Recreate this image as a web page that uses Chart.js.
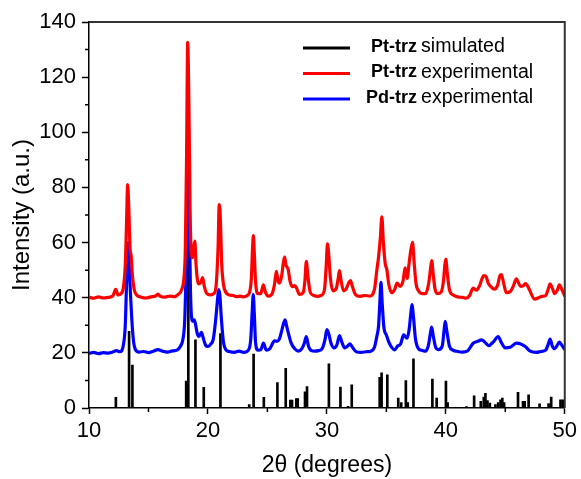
<!DOCTYPE html>
<html>
<head>
<meta charset="utf-8">
<script src="https://cdn.jsdelivr.net/npm/chart.js@4.4.0/dist/chart.umd.min.js"></script>
<style>
  html, body { margin: 0; padding: 0; background: #fff; }
  #wrap { width: 581px; height: 479px; }
</style>
</head>
<body>
<div id="wrap"><canvas id="xrd" width="581" height="479"></canvas></div>
<script>
// Pt-trz simulated: stick positions (2theta) and intensities
const simPos = [12.26, 13.37, 13.65, 18.17, 18.35, 18.95, 19.65, 21.05, 23.47, 23.84,
  24.7, 25.84, 26.54, 26.93, 27.07, 27.43, 27.55, 28.16, 28.33, 30.17,
  31.14, 31.78, 32.09, 34.44, 34.6, 35.08, 36.0, 36.25, 36.64, 36.8,
  37.28, 38.87, 39.23, 40.01, 40.15, 41.74, 42.38, 42.94, 43.19, 43.33,
  43.5, 43.7, 44.17, 44.4, 44.6, 44.75, 44.9, 46.07, 46.49, 46.63,
  46.96, 47.88, 48.64, 48.86, 49.64, 49.83];
const simInt = [3.9, 27.8, 15.6, 9.8, 75, 24.7, 7.5, 27, 1.2, 19.6,
  3.9, 9.2, 14.4, 2.9, 2.9, 3.4, 3.4, 5.9, 7.8, 16,
  7.6, 0.6, 8.4, 11.1, 12.8, 12, 3.6, 2, 9.9, 2,
  17.8, 10.5, 3.6, 9.8, 2, 0.5, 4.4, 2.4, 4, 5.3,
  2.7, 1.8, 1.2, 2, 3, 3.6, 2, 5.7, 2.4, 2.4,
  4.8, 1.5, 1.6, 4, 3, 3];

// Pt-trz experimental (offset +40)
const ptPos = [10.0, 10.4, 10.8, 11.2, 11.6, 12.0, 12.25, 12.45, 12.7, 12.9,
  13.05, 13.15, 13.25, 13.35, 13.45, 13.55, 13.65, 13.8, 14.0, 14.4,
  14.8, 15.2, 15.6, 15.8, 16.0, 16.4, 16.8, 17.2, 17.5, 17.8,
  18.0, 18.1, 18.2, 18.3, 18.4, 18.5, 18.6, 18.7, 18.8, 18.9,
  19.0, 19.1, 19.2, 19.4, 19.55, 19.7, 19.9, 20.2, 20.5, 20.7,
  20.85, 20.95, 21.05, 21.15, 21.3, 21.5, 21.8, 22.1, 22.4, 22.7,
  23.0, 23.3, 23.5, 23.65, 23.75, 23.82, 23.9, 24.0, 24.2, 24.45,
  24.65, 24.85, 25.1, 25.4, 25.6, 25.75, 25.9, 26.0, 26.2, 26.35,
  26.45, 26.55, 26.75, 26.9, 27.1, 27.3, 27.45, 27.7, 28.0, 28.15,
  28.27, 28.4, 28.6, 28.9, 29.2, 29.5, 29.8, 29.95, 30.05, 30.15,
  30.3, 30.5, 30.8, 30.95, 31.06, 31.2, 31.4, 31.6, 31.85, 31.98,
  32.15, 32.4, 32.8, 33.2, 33.6, 34.0, 34.2, 34.35, 34.5, 34.62,
  34.75, 34.9, 35.05, 35.2, 35.45, 35.7, 35.9, 36.15, 36.4, 36.58,
  36.75, 36.9, 37.05, 37.2, 37.35, 37.5, 37.7, 38.0, 38.3, 38.55,
  38.7, 38.81, 38.95, 39.1, 39.3, 39.6, 39.8, 39.92, 40.0, 40.12,
  40.3, 40.6, 41.0, 41.4, 41.7, 42.0, 42.3, 42.58, 42.85, 43.05,
  43.2, 43.4, 43.56, 43.8, 44.06, 44.35, 44.55, 44.67, 44.85, 45.09,
  45.45, 45.7, 45.93, 46.1, 46.29, 46.5, 46.68, 46.85, 47.04, 47.46,
  47.8, 48.1, 48.4, 48.6, 48.77, 48.95, 49.15, 49.35, 49.55, 49.75, 50.0];
const ptInt = [40.2, 39.8, 40.3, 39.9, 40.1, 40.6, 43.0, 41.0, 41.5, 44,
  52, 66, 81, 72, 58, 55, 48, 43, 41, 40.2,
  39.9, 40.3, 40.6, 41.3, 40.5, 40.2, 40.6, 40.4, 41.2, 43,
  48, 58, 90, 132.6, 110, 72, 56, 54.5, 58, 60.5,
  52, 47, 45, 45.5, 47.3, 44, 41.5, 41, 41.5, 45,
  58, 73.8, 68, 53, 45, 42, 41, 40.8, 40.4, 40.6,
  40.3, 40.8, 42, 47, 58, 62.5, 56, 46, 41.5, 41.5,
  44.7, 41.8, 40.6, 41.5, 45, 49.6, 46, 45.3, 48, 53,
  54.7, 52, 50.2, 46, 44, 44.4, 43.5, 41.2, 41.8, 46,
  53.2, 48, 42, 40.8, 40.5, 40.8, 43, 52, 59.5, 56,
  47, 42.5, 43.5, 47, 49.8, 46, 42.5, 43, 45.5, 46.2,
  44, 41.2, 40.5, 40.8, 40.6, 43, 50, 55, 62, 69.3,
  60, 52.5, 50, 45, 41.8, 43, 45.3, 44.1, 46, 50.8,
  47, 52, 57, 60.1, 52, 45, 42.5, 41.5, 41.5, 45,
  50, 53.5, 48, 43, 41.5, 42, 46, 52, 54, 49,
  43, 41, 40.3, 40.1, 39.8, 40.8, 43.5, 42.7, 44.5, 47,
  48, 47.5, 45.3, 44, 43.1, 44.5, 48, 48.4, 45.5, 41.8,
  42.4, 44.5, 46.8, 45.5, 44.1, 44.3, 45.1, 44.5, 42.8, 39.5,
  40, 40.5, 40.8, 43, 45, 43.5, 41.5, 42.5, 44.7, 43, 40.5];

// Pd-trz experimental (offset +20)
const pdPos = [10.0, 10.4, 10.8, 11.2, 11.6, 12.0, 12.3, 12.6, 12.9, 13.05,
  13.15, 13.28, 13.38, 13.48, 13.6, 13.75, 13.9, 14.2, 14.6, 15.0,
  15.4, 15.8, 16.2, 16.6, 17.0, 17.4, 17.7, 17.9, 18.05, 18.15,
  18.25, 18.34, 18.42, 18.52, 18.62, 18.72, 18.85, 18.95, 19.1, 19.25,
  19.45, 19.6, 19.8, 20.0, 20.2, 20.45, 20.65, 20.8, 20.9, 21.0,
  21.12, 21.3, 21.5, 21.8, 22.2, 22.6, 23.0, 23.4, 23.6, 23.72,
  23.81, 23.9, 24.0, 24.2, 24.45, 24.67, 24.9, 25.2, 25.45, 25.6,
  25.8, 26.0, 26.2, 26.38, 26.49, 26.6, 26.8, 27.0, 27.3, 27.6,
  27.9, 28.1, 28.27, 28.45, 28.7, 29.0, 29.3, 29.6, 29.85, 30.0,
  30.15, 30.35, 30.6, 30.85, 31.06, 31.25, 31.5, 31.75, 31.94, 32.15,
  32.5, 32.9, 33.3, 33.7, 34.0, 34.2, 34.35, 34.45, 34.55, 34.65,
  34.8, 35.0, 35.2, 35.45, 35.7, 35.95, 36.2, 36.45, 36.73, 36.9,
  37.05, 37.15, 37.28, 37.45, 37.7, 38.0, 38.3, 38.55, 38.7, 38.81,
  38.95, 39.15, 39.4, 39.7, 39.85, 39.95, 40.08, 40.3, 40.6, 41.0,
  41.4, 41.8, 42.3, 42.7, 43.0, 43.3, 43.6, 44.0, 44.4, 44.7,
  45.0, 45.4, 45.93, 46.3, 46.7, 47.1, 47.6, 48.0, 48.4, 48.6,
  48.77, 48.95, 49.15, 49.4, 49.55, 49.75, 50.0];
const pdInt = [19.8, 20.2, 19.7, 20.1, 19.9, 20.3, 20.8, 20.4, 23, 30,
  44, 60, 52, 42, 32, 24, 21.2, 20.3, 20.5, 20.1,
  20.6, 21.2, 20.6, 20.3, 20.7, 21, 22.5, 25, 32, 48,
  72, 92, 75, 45, 33, 31.5, 32, 30.5, 27, 26,
  27.4, 25.5, 22.8, 22.3, 23, 25, 32, 39, 42.9, 41,
  33, 24, 21.2, 20.5, 20.2, 20.6, 20.2, 21, 25, 35,
  41.1, 34, 24, 21, 21.2, 23.5, 21, 21.5, 23.5, 24.4,
  24.2, 25, 28, 31, 32, 30, 26.5, 23.5, 21.5, 20.6,
  21.5, 23.5, 25.9, 22.5, 20.8, 20.6, 20.8, 21.5, 25, 28.4,
  27, 23.5, 21.8, 23, 26.3, 24, 21.8, 22.5, 23.3, 22,
  20.3, 20.2, 20.4, 20.6, 22, 26, 30, 38, 45.6, 38,
  29, 26.5, 24, 22, 21.1, 22.5, 23.2, 26.5, 25.3, 28,
  34, 37.5, 33, 25, 21.5, 20.9, 20.6, 23, 27, 29.3,
  26, 22, 21.2, 22.5, 28, 31.4, 28, 22.5, 21, 20.5,
  20.3, 20.6, 23.5, 24.2, 24.7, 23.8, 22.6, 24, 25.9, 23.5,
  21.8, 22, 23.5, 23.2, 22.2, 20.6, 20.2, 20.5, 21, 23,
  25, 22.5, 21.5, 23, 23.9, 22.8, 21.2];

const seriesBold = ["Pt-trz", "Pt-trz", "Pd-trz"];
const seriesNote = ["simulated", "experimental", "experimental"];
const seriesColor = ["#000000", "#ff0000", "#0000ff"];
const xTicks = [10, 20, 30, 40, 50];
const yTicks = [0, 20, 40, 60, 80, 100, 120, 140];

const FONT = "'Liberation Sans', Arial, sans-serif";
const pts = (xs, ys) => xs.map((x, i) => ({ x: x, y: ys[i] }));

// box edges, minor ticks and the two-weight legend
const decor = {
  id: 'decor',
  afterDraw(chart) {
    const { ctx, chartArea: a, scales: { x, y } } = chart;
    ctx.save();
    ctx.strokeStyle = '#333';
    ctx.lineWidth = 2;
    ctx.beginPath();
    ctx.moveTo(a.left, a.top);
    ctx.lineTo(a.right, a.top);
    ctx.lineTo(a.right, a.bottom);
    ctx.stroke();

    ctx.strokeStyle = '#000';
    ctx.lineWidth = 1.5;
    ctx.beginPath();
    for (let i = 1; i < x.ticks.length; i++) {
      const px = x.getPixelForValue((x.ticks[i - 1].value + x.ticks[i].value) / 2);
      ctx.moveTo(px, a.bottom);
      ctx.lineTo(px, a.bottom + 4);
    }
    for (let i = 1; i < y.ticks.length; i++) {
      const py = y.getPixelForValue((y.ticks[i - 1].value + y.ticks[i].value) / 2);
      ctx.moveTo(a.left - 4, py);
      ctx.lineTo(a.left, py);
    }
    ctx.stroke();

    chart.data.datasets.forEach((ds, i) => {
      const ly = 48 + i * 25.5;
      ctx.strokeStyle = seriesColor[i];
      ctx.lineWidth = 3;
      ctx.beginPath();
      ctx.moveTo(303, ly);
      ctx.lineTo(350, ly);
      ctx.stroke();
      ctx.fillStyle = '#000';
      ctx.textBaseline = 'middle';
      ctx.textAlign = 'right';
      ctx.font = 'bold 18px ' + FONT;
      ctx.fillText(seriesBold[i], 417, ly - 1);
      ctx.textAlign = 'left';
      ctx.font = '19.6px ' + FONT;
      ctx.fillText(seriesNote[i], 421, ly - 1);
    });
    ctx.restore();
  }
};

new Chart(document.getElementById('xrd'), {
  type: 'line',
  data: {
    datasets: [
      {
        type: 'bar',
        label: seriesBold[0] + ' ' + seriesNote[0],
        data: pts(simPos, simInt),
        backgroundColor: seriesColor[0],
        barThickness: 2,
        grouped: false,
        order: 3
      },
      {
        label: seriesBold[1] + ' ' + seriesNote[1],
        data: pts(ptPos, ptInt),
        borderColor: seriesColor[1],
        borderWidth: 3.2,
        pointRadius: 0,
        cubicInterpolationMode: 'monotone',
        order: 1
      },
      {
        label: seriesBold[2] + ' ' + seriesNote[2],
        data: pts(pdPos, pdInt),
        borderColor: seriesColor[2],
        borderWidth: 3.2,
        pointRadius: 0,
        cubicInterpolationMode: 'monotone',
        order: 2
      }
    ]
  },
  options: {
    responsive: false,
    animation: false,
    layout: { padding: { top: 22, right: 14, left: 0, bottom: 0 } },
    plugins: { legend: { display: false }, tooltip: { enabled: false } },
    scales: {
      x: {
        type: 'linear',
        min: 10, max: 50,
        offset: false,
        afterBuildTicks: s => { s.ticks = xTicks.map(v => ({ value: v })); },
        afterFit: s => { s.height = 71; },
        grid: { drawOnChartArea: false, offset: false, tickLength: 6, tickWidth: 1.5, tickColor: '#000' },
        border: { color: '#000', width: 1.5 },
        ticks: { color: '#000', padding: 4, maxRotation: 0, font: { family: FONT, size: 22 } },
        title: { display: true, text: '2θ (degrees)', color: '#000', padding: 0, font: { family: FONT, size: 23 } }
      },
      y: {
        min: 0, max: 140,
        afterBuildTicks: s => { s.ticks = yTicks.map(v => ({ value: v })); },
        afterFit: s => { s.width = 89; },
        grid: { drawOnChartArea: false, tickLength: 7, tickWidth: 1.5, tickColor: '#000' },
        border: { color: '#000', width: 1.5 },
        ticks: { color: '#000', padding: 6, font: { family: FONT, size: 22 } },
        title: { display: true, text: 'Intensity (a.u.)', color: '#000', padding: { top: 8, bottom: 0 }, font: { family: FONT, size: 24 } }
      }
    }
  },
  plugins: [decor]
});
</script>
</body>
</html>
